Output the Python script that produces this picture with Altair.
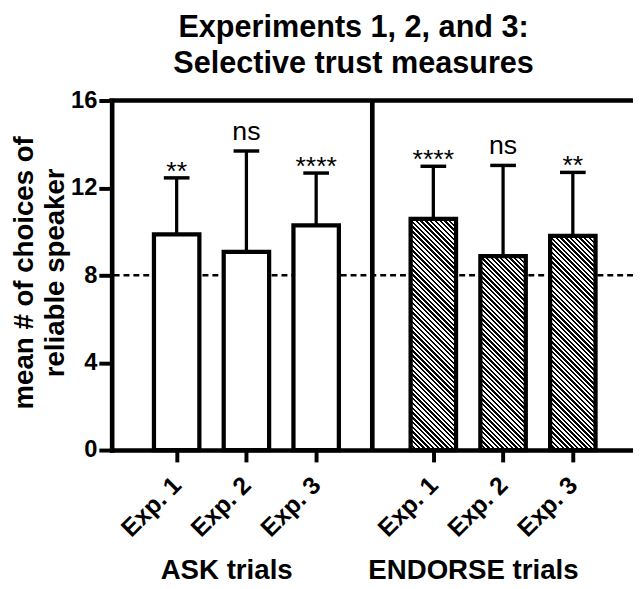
import json
import altair as alt

# ---------------- data ----------------
experiments = ["Exp. 1", "Exp. 2", "Exp. 3"]
group_labels = ["ASK trials", "ENDORSE trials"]
ask_mean = [9.87, 9.07, 10.29]
ask_upper = [12.46, 13.69, 12.68]
ask_sig = ["**", "ns", "****"]
endorse_mean = [10.58, 8.88, 9.81]
endorse_upper = [12.99, 13.03, 12.71]
endorse_sig = ["****", "ns", "**"]
chance_level = [8]
y_tick_values = [0, 4, 8, 12, 16]
y_title = ["mean # of choices of", "reliable speaker"]
title_lines = ["Experiments 1, 2, and 3:", "Selective trust measures"]

# ---------------- layout / style ----------------
FONT = "Liberation Sans"
W, H = 528, 354
Y_MAX = 16
GROUP_SHIFT = 3.68
X_DOMAIN = [0.139, 7.472]
DIVIDER_POS = 3.805
BAR_W = 46
HATCH_PERIOD = 4.8
HATCH_INK = 0.5
GROUP_LABEL_DX = [-20, -30]
FRAME_W = 4.7


def hatch(bar_h):
    """Diagonal black/white stripes ('\\') as a linear gradient in bbox units."""
    w, h = BAR_W, bar_h
    t = (w + h) / (w * w + h * h)
    n = max(1, round((w + h) / HATCH_PERIOD))
    stops = []
    for k in range(n):
        a = k / n
        b = (k + HATCH_INK) / n
        c = (k + 1) / n
        stops += [
            {"offset": round(a, 5), "color": "black"},
            {"offset": round(b, 5), "color": "black"},
            {"offset": round(b, 5), "color": "white"},
            {"offset": round(c, 5), "color": "white"},
        ]
    return {"gradient": "linear", "x1": 0, "y1": 1,
            "x2": round(t * w, 5), "y2": round(1 - t * h, 5), "stops": stops}


series = [(ask_mean, ask_upper, ask_sig), (endorse_mean, endorse_upper, endorse_sig)]
records = []
for g, (means, uppers, sigs) in enumerate(series):
    for i, exp in enumerate(experiments):
        m = means[i]
        records.append({
            "group": group_labels[g], "exp": exp,
            "pos": i + 1 + g * GROUP_SHIFT,
            "mean": m, "upper": uppers[i], "sig": sigs[i],
            "paint": "white" if g == 0 else hatch(m * H / Y_MAX),
        })
tick_pos = [r["pos"] for r in records]

label_expr = (f"{json.dumps(experiments)}[round(datum.value < {DIVIDER_POS} ? "
              f"datum.value : datum.value - {GROUP_SHIFT}) - 1]")

x_scale = alt.Scale(domain=X_DOMAIN, nice=False, zero=False)
y_scale = alt.Scale(domain=[0, Y_MAX], nice=False)
x_axis = alt.Axis(values=tick_pos, labelExpr=label_expr, labelAngle=-45,
                  labelAlign="right", labelBaseline="middle",
                  labelFont=FONT, labelFontSize=25, labelFontWeight="bold",
                  tickSize=12, tickWidth=4, domainWidth=FRAME_W, labelPadding=19,
                  title=None)
y_axis = alt.Axis(values=y_tick_values, labelFont=FONT, labelFontSize=24,
                  labelFontWeight="bold", tickSize=13, tickWidth=4,
                  domainWidth=FRAME_W, labelPadding=2,
                  title=y_title, titleFont=FONT, titleFontSize=28,
                  titleFontWeight="bold", titleLineHeight=31, titleAngle=270,
                  titleBaseline="alphabetic", titleAlign="center",
                  titleX=-80, titleY=174)

X = alt.X("pos:Q", scale=x_scale, axis=x_axis)
base = alt.Chart(alt.Data(values=records))

chance = alt.Chart(alt.Data(values=[{"c": v} for v in chance_level])).mark_rule(
    strokeDash=[6, 4], strokeWidth=2.5, color="black"
).encode(y=alt.Y("c:Q", scale=y_scale, axis=y_axis))

bars = base.mark_bar(size=BAR_W, stroke="black", strokeWidth=4.3).encode(
    x=X,
    y=alt.Y("mean:Q", scale=y_scale, axis=y_axis),
    fill=alt.Fill("paint:N", scale=None),
)

err = base.mark_rule(strokeWidth=3.3, color="black").encode(
    x=X, y=alt.Y("mean:Q", scale=y_scale, axis=y_axis), y2="upper:Q"
)
caps = base.mark_tick(orient="horizontal", size=26, thickness=3.5,
                      color="black", opacity=1).encode(
    x=X, y=alt.Y("upper:Q", scale=y_scale, axis=y_axis)
)
stars = base.transform_filter("datum.sig != 'ns'").mark_text(
    font=FONT, fontSize=27, baseline="alphabetic", dy=2, color="black"
).encode(x=X, y=alt.Y("upper:Q", scale=y_scale, axis=y_axis), text="sig:N")
ns = base.transform_filter("datum.sig == 'ns'").mark_text(
    font=FONT, fontSize=27, baseline="alphabetic", dy=-11.5, color="black"
).encode(x=X, y=alt.Y("upper:Q", scale=y_scale, axis=y_axis), text="sig:N")

top = alt.Chart(alt.Data(values=[{"t": Y_MAX}])).mark_rule(
    strokeWidth=FRAME_W, strokeCap="square", color="black"
).encode(y=alt.Y("t:Q", scale=y_scale, axis=y_axis))
divider = alt.Chart(alt.Data(values=[{"d": DIVIDER_POS}])).mark_rule(
    strokeWidth=FRAME_W, color="black"
).encode(x=alt.X("d:Q", scale=x_scale, axis=x_axis))

group_texts = []
for g, lab in enumerate(group_labels):
    group_texts.append(
        alt.Chart(alt.Data(values=[{"label": lab, "c": 2 + g * GROUP_SHIFT}])).mark_text(
            font=FONT, fontSize=28, fontWeight="bold", baseline="alphabetic",
            dx=GROUP_LABEL_DX[g], color="black"
        ).encode(x=alt.X("c:Q", scale=x_scale, axis=x_axis),
                 y=alt.value(H + 131), text="label:N")
    )

chart = alt.layer(chance, bars, err, caps, stars, ns, top, divider, *group_texts).properties(
    width=W, height=H,
    title=alt.TitleParams(text=title_lines, font=FONT, fontSize=31, fontWeight="bold",
                          lineHeight=36, anchor="middle", dx=-19, offset=9,
                          color="black"),
    autosize=alt.AutoSizeParams(type="none"),
    padding={"left": 105, "top": 90, "right": 0, "bottom": 137},
).configure(font=FONT).configure_view(stroke=None).configure_axis(
    domainColor="black", tickColor="black", labelColor="black",
    titleColor="black", grid=False, domainCap="square"
)

chart.save("out.html", embed_options={"renderer": "svg", "actions": False})
